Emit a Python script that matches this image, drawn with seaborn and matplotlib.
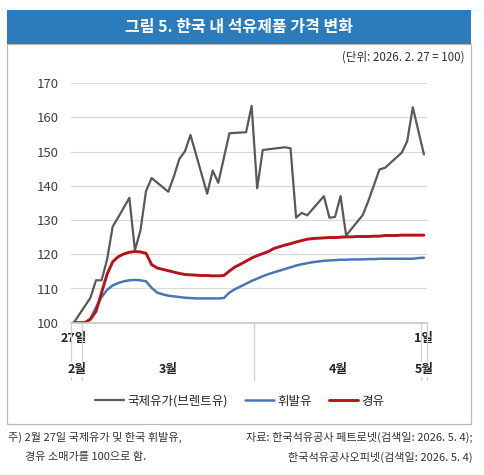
import matplotlib
matplotlib.use("Agg")
import matplotlib.pyplot as plt
import seaborn as sns
import pandas as pd
from matplotlib.patches import Rectangle

# 날짜 축: 2026-02-27 ~ 2026-05-01 (일별)
start = "2026-02-27"
end = "2026-05-01"

# 휘발유, 경유 소매가 (일별, 2.27=100)
gasoline = [100, 100, 100, 101.2, 104.5, 107.5, 109.6, 110.9, 111.6, 112.1,
            112.4, 112.5, 112.4, 112.1, 110.2, 108.8, 108.3, 107.9, 107.7, 107.5,
            107.3, 107.2, 107.1, 107.1, 107.1, 107.1, 107.1, 107.2, 108.8, 109.8,
            110.6, 111.4, 112.2, 112.9, 113.6, 114.2, 114.7, 115.2, 115.7, 116.2,
            116.7, 117.1, 117.4, 117.7, 117.9, 118.1, 118.2, 118.3, 118.4, 118.4,
            118.5, 118.5, 118.5, 118.6, 118.6, 118.7, 118.7, 118.7, 118.7, 118.7,
            118.7, 118.7, 118.9, 119.0]
diesel = [100, 100, 100, 101.0, 103.3, 108.8, 114.2, 117.8, 119.3, 120.1,
          120.6, 120.8, 120.7, 120.3, 117.0, 116.0, 115.6, 115.2, 114.8, 114.4,
          114.1, 114.0, 113.9, 113.8, 113.8, 113.7, 113.7, 113.8, 115.1, 116.3,
          117.1, 118.0, 118.9, 119.6, 120.2, 120.8, 121.7, 122.2, 122.7, 123.1,
          123.6, 124.0, 124.4, 124.6, 124.7, 124.8, 124.9, 124.9, 125.0, 125.1,
          125.1, 125.2, 125.2, 125.2, 125.3, 125.3, 125.5, 125.5, 125.5, 125.6,
          125.6, 125.6, 125.6, 125.6]

# 브렌트유 (거래일만)
brent_dates = ["2026-02-27", "2026-03-02", "2026-03-03", "2026-03-04", "2026-03-05",
               "2026-03-06", "2026-03-07", "2026-03-09", "2026-03-10", "2026-03-11",
               "2026-03-12", "2026-03-13", "2026-03-16", "2026-03-17", "2026-03-18",
               "2026-03-19", "2026-03-20", "2026-03-23", "2026-03-24", "2026-03-25",
               "2026-03-27", "2026-03-30", "2026-03-31", "2026-04-01", "2026-04-02",
               "2026-04-06", "2026-04-07", "2026-04-08", "2026-04-09", "2026-04-10",
               "2026-04-13", "2026-04-14", "2026-04-15", "2026-04-16", "2026-04-17",
               "2026-04-20", "2026-04-21", "2026-04-23", "2026-04-24", "2026-04-27",
               "2026-04-28", "2026-04-29", "2026-05-01"]
brent = [100, 107.3, 112.4, 112.4, 118.5,
         128.1, 130.8, 136.5, 121.2, 127.0,
         138.5, 142.3, 138.3, 142.7, 147.9,
         150.1, 154.9, 137.7, 144.5, 140.9,
         155.4, 155.7, 163.4, 139.3, 150.5,
         151.3, 151.0, 130.7, 132.1, 131.4,
         137.0, 130.7, 130.9, 137.0, 125.5,
         131.5, 135.6, 144.8, 145.3, 149.7,
         153.1, 163.0, 149.2]

series_names = ["국제유가(브렌트유)", "휘발유", "경유"]
colors = ["#595959", "#4a76b5", "#b5121b"]
yticks = [100, 110, 120, 130, 140, 150, 160, 170]

days = pd.date_range(start, end, freq="D")
t0 = days[0]
dom = pd.DataFrame({"date": days, "휘발유": gasoline, "경유": diesel})
dom["day"] = (dom["date"] - t0).dt.days
bdf = pd.DataFrame({"date": pd.to_datetime(brent_dates), "value": brent})
bdf["day"] = (bdf["date"] - t0).dt.days

sns.set_theme(style="white")
plt.rcParams["font.family"] = ["Noto Sans CJK KR", "DejaVu Sans"]

fig = plt.figure(figsize=(4.84, 4.75), dpi=100)
ax = fig.add_axes([71 / 484, 1 - 322.7 / 475, 355.7 / 484, 239.4 / 475])

sns.lineplot(data=bdf, x="day", y="value", color=colors[0], lw=1.6, ax=ax,
             label=series_names[0])
sns.lineplot(data=dom, x="day", y="휘발유", color=colors[1], lw=1.8, ax=ax,
             label=series_names[1])
sns.lineplot(data=dom, x="day", y="경유", color=colors[2], lw=2.1, ax=ax,
             label=series_names[2])

ax.set_xlim(-0.5, len(days) - 0.5)
ax.set_ylim(100, 170)
ax.set_yticks(yticks)
ax.set_yticklabels([str(v) for v in yticks], fontsize=9.5, color="#404040")
ax.yaxis.grid(True, color="#d9d9d9", lw=0.9)
ax.tick_params(axis="y", length=0, pad=9)
for s in ["top", "right", "left"]:
    ax.spines[s].set_visible(False)
ax.spines["bottom"].set_color("#c8c8c8")
ax.set_xlabel("")
ax.set_ylabel("")

# 일 레이블 (처음과 끝)
ax.set_xticks([dom["day"].iloc[0], dom["day"].iloc[-1]])
ax.set_xticklabels([f"{days[0].day}일", f"{days[-1].day}일"], fontsize=9,
                   color="#222222", fontweight="bold")
ax.tick_params(axis="x", length=0, pad=7)
for lab in ax.get_xticklabels():
    lab.set_bbox(dict(facecolor="white", edgecolor="none", pad=0.5))
    lab.set_zorder(5)

# 월 구분선과 월 레이블
tr = ax.get_xaxis_transform()
months = dom.groupby(dom["date"].dt.month)["day"].agg(["min", "max"])
bounds = sorted(set([m - 0.5 for m in months["min"]] + [m + 0.5 for m in months["max"]]))
for b in bounds:
    ax.plot([b, b], [0, -0.24], transform=tr, color="#d0d0d0", lw=0.9,
            clip_on=False, zorder=1)
for mon, row in months.iterrows():
    ax.text((row["min"] + row["max"]) / 2, -0.195, f"{mon}월", transform=tr,
            ha="center", va="center", fontsize=9, color="#222222", fontweight="bold",
            zorder=5, bbox=dict(facecolor="white", edgecolor="none", pad=0.5))

ax.legend_.remove()
handles, labels = ax.get_legend_handles_labels()
fig.legend(handles, labels, loc="center", bbox_to_anchor=(0.495, 1 - 401 / 475),
           ncol=3, frameon=False, fontsize=9, handlelength=2.3, columnspacing=1.4,
           handletextpad=0.25)

# 제목 상자와 테두리
fig.patches.append(Rectangle((7 / 484, 51 / 475), 464 / 484, 380 / 475,
                             transform=fig.transFigure, fill=False,
                             edgecolor="#b8b8b8", lw=0.9))
fig.patches.append(Rectangle((7 / 484, 1 - 44 / 475), 464 / 484, 34 / 475,
                             transform=fig.transFigure, color="#2c7cbc", lw=0))
fig.text(239 / 484, 1 - 27 / 475, "그림 5. 한국 내 석유제품 가격 변화", ha="center",
         va="center", color="white", fontsize=11.5, fontweight="bold")
fig.text(465 / 484, 1 - 57 / 475, "(단위: 2026. 2. 27 = 100)", ha="right",
         va="center", fontsize=8.3, color="#333333")

# 주석
fig.text(8 / 484, 1 - 437 / 475, "주) 2월 27일 국제유가 및 한국 휘발유,", ha="left",
         va="center", fontsize=8, color="#333333")
fig.text(25 / 484, 1 - 457 / 475, "경유 소매가를 100으로 함.", ha="left",
         va="center", fontsize=8, color="#333333")
fig.text(473 / 484, 1 - 437 / 475, "자료: 한국석유공사 페트로넷(검색일: 2026. 5. 4);",
         ha="right", va="center", fontsize=8, color="#333333")
fig.text(473 / 484, 1 - 457 / 475, "한국석유공사오피넷(검색일: 2026. 5. 4)",
         ha="right", va="center", fontsize=8, color="#333333")

fig.savefig("out.png", dpi=100)
